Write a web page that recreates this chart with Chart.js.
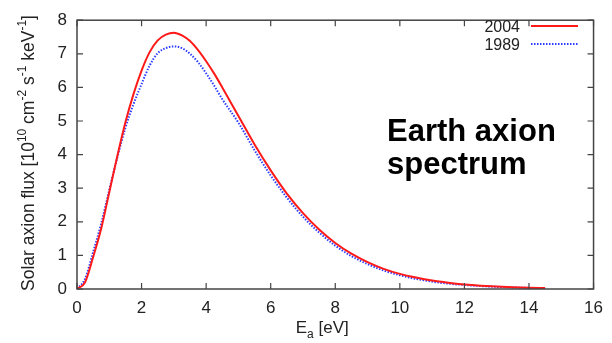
<!DOCTYPE html>
<html>
<head>
<meta charset="utf-8">
<script src="https://cdn.jsdelivr.net/npm/chart.js@4.4.1/dist/chart.umd.min.js"></script>
<style>
  html, body { margin: 0; padding: 0; background: #fff; }
  #wrap { width: 612px; height: 343px; }
</style>
</head>
<body>
<div id="wrap"><canvas id="axionChart" width="612" height="343"></canvas></div>
<script>
// energies in eV, flux in 10^10 cm^-2 s^-1 keV^-1
var energies = [0, 0.25, 0.5, 0.75, 1, 1.25, 1.5, 1.75, 2, 2.25, 2.5, 2.75, 3, 3.25, 3.5, 3.75, 4, 4.25, 4.5, 5, 5.5, 6, 6.5, 7, 7.5, 8, 8.5, 9, 9.5, 10, 10.5, 11, 11.5, 12, 12.5, 13, 13.5, 14, 14.5];
var flux2004 = [0, 0.2, 0.95, 1.8, 2.88, 3.96, 4.96, 5.8, 6.5, 7.05, 7.4, 7.57, 7.63, 7.55, 7.38, 7.11, 6.78, 6.41, 6.0, 5.15, 4.3, 3.53, 2.84, 2.26, 1.77, 1.37, 1.05, 0.8, 0.6, 0.45, 0.34, 0.25, 0.185, 0.135, 0.099, 0.072, 0.053, 0.038, 0.027];
var flux1989 = [0, 0.3, 1.1, 1.95, 2.95, 3.92, 4.8, 5.5, 6.1, 6.65, 7.02, 7.17, 7.22, 7.17, 7.0, 6.75, 6.42, 6.05, 5.65, 4.95, 4.13, 3.38, 2.72, 2.15, 1.68, 1.29, 0.98, 0.74, 0.55, 0.41, 0.3, 0.22, 0.16, 0.12, 0.088, 0.064, 0.046, 0.033, 0.023];
var seriesLabels = ['2004', '1989'];
var xTicks = [0, 2, 4, 6, 8, 10, 12, 14, 16];
var yTicks = [0, 1, 2, 3, 4, 5, 6, 7, 8];

function toPoints(xs, ys) {
    return xs.map(function (x, i) { return { x: x, y: ys[i] }; });
}

var axisColor = '#444';
var textColor = '#222';
var font = 'Arial, "Liberation Sans", sans-serif';

// gnuplot style frame: box around plot, ticks pointing inwards on all sides
var framePlugin = {
    id: 'frame',
    afterDatasetsDraw: function (chart) {
        var ctx = chart.ctx, a = chart.chartArea;
        var xs = chart.scales.x, ys = chart.scales.y;
        var len = 6;
        ctx.save();
        ctx.strokeStyle = axisColor;
        ctx.lineWidth = 1.5;
        ctx.strokeRect(a.left, a.top, a.right - a.left, a.bottom - a.top);
        ctx.lineWidth = 1.2;
        ctx.beginPath();
        xTicks.forEach(function (v) {
            var px = xs.getPixelForValue(v);
            ctx.moveTo(px, a.bottom); ctx.lineTo(px, a.bottom - len);
            ctx.moveTo(px, a.top); ctx.lineTo(px, a.top + len);
        });
        yTicks.forEach(function (v) {
            var py = ys.getPixelForValue(v);
            ctx.moveTo(a.left, py); ctx.lineTo(a.left + len, py);
            ctx.moveTo(a.right, py); ctx.lineTo(a.right - len, py);
        });
        ctx.stroke();
        ctx.restore();
    }
};

// axis titles with super/subscripts, legend (text then line sample), annotation
var labelsPlugin = {
    id: 'labels',
    afterDraw: function (chart) {
        var ctx = chart.ctx, a = chart.chartArea;
        ctx.save();
        ctx.fillStyle = textColor;
        ctx.textBaseline = 'alphabetic';

        // y title
        var parts = [
            ['Solar axion flux [10', 0], ['10', 1], [' cm', 0], ['-2', 1], [' s', 0],
            ['-1', 1], [' keV', 0], ['-1', 1], [']', 0]
        ];
        var big = 17.5, small = 12;
        var total = 0;
        parts.forEach(function (p) {
            ctx.font = (p[1] ? small : big) + 'px ' + font;
            total += ctx.measureText(p[0]).width;
        });
        ctx.translate(34, 153);
        ctx.rotate(-Math.PI / 2);
        var x = -total / 2;
        parts.forEach(function (p) {
            ctx.font = (p[1] ? small : big) + 'px ' + font;
            ctx.fillText(p[0], x, p[1] ? -8 : 0);
            x += ctx.measureText(p[0]).width;
        });
        ctx.setTransform(1, 0, 0, 1, 0, 0);

        // x title
        ctx.font = '17px ' + font;
        var w1 = ctx.measureText('E').width;
        ctx.font = '12px ' + font;
        var w2 = ctx.measureText('a').width;
        ctx.font = '17px ' + font;
        var w3 = ctx.measureText(' [eV]').width;
        var cx = (a.left + a.right) / 2 - 13;
        var x0 = cx - (w1 + w2 + w3) / 2;
        var by = 333;
        ctx.fillText('E', x0, by);
        ctx.font = '12px ' + font;
        ctx.fillText('a', x0 + w1, by + 5);
        ctx.font = '17px ' + font;
        ctx.fillText(' [eV]', x0 + w1 + w2, by);

        // legend
        ctx.font = '16px ' + font;
        ctx.textAlign = 'right';
        chart.data.datasets.forEach(function (ds, i) {
            var ly = 26 + i * 18;
            ctx.fillStyle = textColor;
            ctx.fillText(ds.label, 520, ly + 6);
            ctx.strokeStyle = ds.borderColor;
            ctx.lineWidth = ds.borderWidth;
            ctx.setLineDash(ds.borderDash || []);
            ctx.beginPath();
            ctx.moveTo(531, ly);
            ctx.lineTo(578, ly);
            ctx.stroke();
        });
        ctx.setLineDash([]);

        // annotation
        ctx.fillStyle = '#000';
        ctx.textAlign = 'left';
        ctx.font = 'bold 31px ' + font;
        ctx.fillText('Earth axion', 387, 141);
        ctx.fillText('spectrum', 387, 174);
        ctx.restore();
    }
};

var ctx = document.getElementById('axionChart').getContext('2d');
var axionChart = new Chart(ctx, {
    type: 'line',
    data: {
        datasets: [{
            label: seriesLabels[0],
            data: toPoints(energies, flux2004),
            borderColor: '#ff1a1a',
            borderWidth: 2,
            pointRadius: 0,
            cubicInterpolationMode: 'monotone',
            fill: false
        }, {
            label: seriesLabels[1],
            data: toPoints(energies, flux1989),
            borderColor: '#2b3cff',
            borderWidth: 2,
            borderDash: [1.5, 1.5],
            pointRadius: 0,
            cubicInterpolationMode: 'monotone',
            fill: false
        }]
    },
    options: {
        responsive: false,
        animation: false,
        layout: { padding: { top: 15, right: 14, left: 0, bottom: 0 } },
        plugins: { legend: { display: false }, tooltip: { enabled: false } },
        scales: {
            x: {
                type: 'linear',
                min: 0, max: 16,
                afterBuildTicks: function (s) { s.ticks = xTicks.map(function (v) { return { value: v }; }); },
                afterFit: function (s) { s.height = 54; },
                grid: { drawOnChartArea: false, drawTicks: false },
                border: { display: false },
                ticks: { color: textColor, padding: 9, font: { size: 17, family: font }, maxRotation: 0 }
            },
            y: {
                type: 'linear',
                min: 0, max: 8,
                afterBuildTicks: function (s) { s.ticks = yTicks.map(function (v) { return { value: v }; }); },
                afterFit: function (s) { s.width = 77; },
                grid: { drawOnChartArea: false, drawTicks: false },
                border: { display: false },
                ticks: { color: textColor, padding: 10, font: { size: 17, family: font } }
            }
        }
    },
    plugins: [framePlugin, labelsPlugin]
});
</script>
</body>
</html>
